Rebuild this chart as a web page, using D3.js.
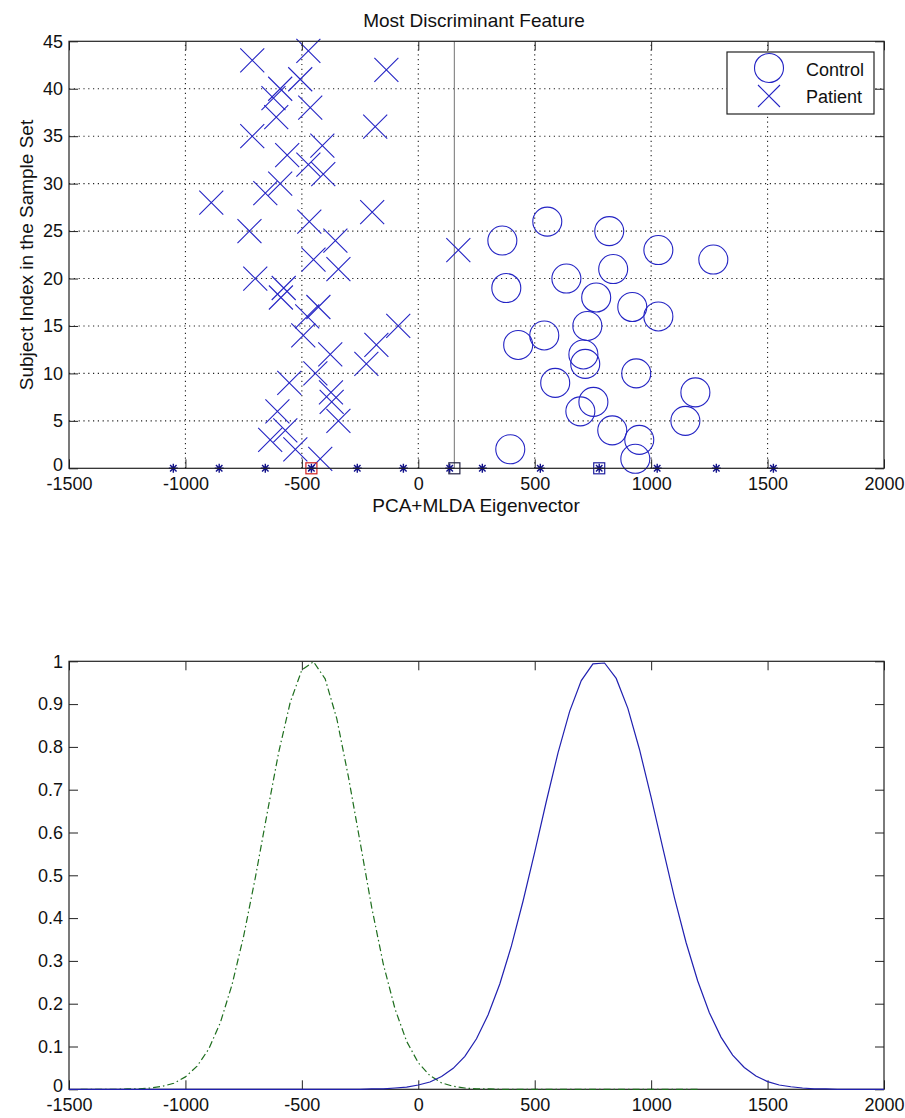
<!DOCTYPE html>
<html>
<head>
<meta charset="utf-8">
<script src="https://cdn.jsdelivr.net/npm/d3@7"></script>
<style>
  body { margin: 0; background: #fff; }
  svg text { font-family: "Liberation Sans", Arial, sans-serif; fill: #111; }
</style>
</head>
<body>
<svg id="svg" width="905" height="1118"></svg>
<script>
// ---- data ----
const xTicks = [-1500, -1000, -500, 0, 500, 1000, 1500, 2000];
const yTicksTop = [0, 5, 10, 15, 20, 25, 30, 35, 40, 45];
const yTicksBottom = [0, 0.1, 0.2, 0.3, 0.4, 0.5, 0.6, 0.7, 0.8, 0.9, 1];

// projection value of each control subject (index 1..26)
const controlValues = [932, 395, 949, 833, 1147, 696, 752, 1190, 588, 936, 717, 709, 429,
    541, 726, 1031, 919, 764, 378, 636, 837, 1267, 1031, 361, 820, 554];
// projection value of each patient subject (index 1..44)
const patientValues = [-421, -528, -636, -571, -343, -605, -372, -375, -554, -442, -223, -378,
    -180, -494, -86, -477, -429, -590, -578, -700, -343, -450, 172, -356, -725, -468, -198, -889,
    -657, -593, -408, -472, -563, -412, -713, -185, -610, -464, -622, -593, -507, -137, -713, -472];

// markers along the axis
const patientStars = [-1052, -855, -657, -459, -262, -64, 135];
const controlStars = [275, 524, 777, 1026, 1280, 1525];
const patientMean = -459;
const controlMean = 777;
const threshold = 155;

// fitted curves (x grid every 50 units)
const controlCurveX = d3.range(-1500, 2001, 50);
const controlCurve = [0, 0, 0, 0, 0, 0, 0, 0, 0, 0, 0, 0, 0, 0, 0, 0, 0, 0, 0, 0, 0, 0, 0, 0, 0, 0,
    0.001, 0.001, 0.003, 0.005, 0.010, 0.017, 0.030, 0.049, 0.077, 0.118, 0.174, 0.246, 0.335,
    0.440, 0.554, 0.673, 0.786, 0.883, 0.955, 0.994, 0.996, 0.960, 0.890, 0.794, 0.682, 0.564,
    0.448, 0.343, 0.253, 0.179, 0.122, 0.080, 0.051, 0.031, 0.018, 0.010, 0.006, 0.003, 0.001,
    0.001, 0, 0, 0, 0, 0];
const patientCurveX = d3.range(-1450, 1201, 50);
const patientCurve = [0, 0, 0, 0, 0.001, 0.001, 0.003, 0.007, 0.014, 0.029, 0.054, 0.094, 0.156,
    0.244, 0.358, 0.494, 0.642, 0.786, 0.904, 0.980, 0.999, 0.959, 0.866, 0.730, 0.578, 0.425,
    0.292, 0.188, 0.112, 0.062, 0.032, 0.015, 0.007, 0.003, 0.001, 0.001,
    0, 0, 0, 0, 0, 0, 0, 0, 0, 0, 0, 0, 0, 0, 0, 0, 0, 0];

const blue = "#2424c4";
const navy = "#10108a";
const tickFont = 18;
const labelFont = 19;

const svg = d3.select("#svg");
svg.append("rect").attr("width", 905).attr("height", 1118).attr("fill", "#fff");

const left = 69, right = 884;
const x = d3.scaleLinear().domain([-1500, 2000]).range([left, right]);
const yTop = d3.scaleLinear().domain([0, 45]).range([468.3, 41.3]);
const yBot = d3.scaleLinear().domain([0, 1]).range([1089.3, 661.3]);

function drawFrame(y, yTicks) {
    const [y0, y1] = y.range();
    const g = svg.append("g");
    const tick = 9;
    const fmt = d => String(d);
    const bottom = g.append("g").attr("transform", "translate(0," + y0 + ")")
        .call(d3.axisBottom(x).tickValues(xTicks).tickSize(-tick).tickSizeOuter(0).tickPadding(9).tickFormat(fmt));
    const top = g.append("g").attr("transform", "translate(0," + y1 + ")")
        .call(d3.axisTop(x).tickValues(xTicks).tickSize(-tick).tickSizeOuter(0).tickFormat(""));
    const leftAx = g.append("g").attr("transform", "translate(" + left + ",0)")
        .call(d3.axisLeft(y).tickValues(yTicks).tickSize(-tick).tickSizeOuter(0).tickPadding(6).tickFormat(fmt));
    const rightAx = g.append("g").attr("transform", "translate(" + right + ",0)")
        .call(d3.axisRight(y).tickValues(yTicks).tickSize(-tick).tickSizeOuter(0).tickFormat(""));
    [bottom, top, leftAx, rightAx].forEach(a => {
        a.select(".domain").remove();
        a.selectAll("line").attr("stroke", "#222");
        a.selectAll("text").attr("font-size", tickFont).attr("font-family", null).attr("fill", "#111");
    });
    // the zero label sits a little above the corner, as in the figure
    leftAx.selectAll(".tick").filter(d => d === 0).select("text").attr("dy", "0.1em");
    g.append("rect")
        .attr("x", left).attr("y", y1)
        .attr("width", right - left).attr("height", y0 - y1)
        .attr("fill", "none").attr("stroke", "#222").attr("stroke-width", 1.2);
    return g;
}

// ---------- top panel ----------
const grid = svg.append("g").attr("stroke", "#222").attr("stroke-width", 1.1)
    .attr("stroke-dasharray", "1.2,3.6");
grid.selectAll(".gx").data(xTicks.slice(1, -1)).join("line")
    .attr("x1", d => x(d)).attr("x2", d => x(d))
    .attr("y1", yTop(0)).attr("y2", yTop(45));
grid.selectAll(".gy").data(yTicksTop.slice(1, -1)).join("line")
    .attr("x1", left).attr("x2", right)
    .attr("y1", d => yTop(d)).attr("y2", d => yTop(d));

svg.append("line")
    .attr("x1", x(threshold)).attr("x2", x(threshold))
    .attr("y1", yTop(0)).attr("y2", yTop(45))
    .attr("stroke", "#8a8a8a").attr("stroke-width", 1.2);

svg.append("g").selectAll("circle").data(controlValues).join("circle")
    .attr("cx", d => x(d)).attr("cy", (d, i) => yTop(i + 1)).attr("r", 14.5)
    .attr("fill", "none").attr("stroke", blue).attr("stroke-width", 1.1);

const cross = s => `M${-s},${-s}L${s},${s}M${-s},${s}L${s},${-s}`;
svg.append("g").selectAll("path").data(patientValues).join("path")
    .attr("transform", (d, i) => "translate(" + x(d) + "," + yTop(i + 1) + ")")
    .attr("d", cross(12)).attr("fill", "none").attr("stroke", blue).attr("stroke-width", 1.1);

const star = s => { const k = s * 0.72; return `M0,${-s}L0,${s}M${-s},0L${s},0M${-k},${-k}L${k},${k}M${-k},${k}L${k},${-k}`; };
const squares = [
    { v: patientMean, color: "#d02020" },
    { v: threshold, color: "#222244" },
    { v: controlMean, color: "#2020a0" }
];
svg.append("g").selectAll("rect").data(squares).join("rect")
    .attr("x", d => x(d.v) - 5.5).attr("y", yTop(0) - 5.5)
    .attr("width", 11).attr("height", 11)
    .attr("fill", "none").attr("stroke", d => d.color).attr("stroke-width", 1.2);
svg.append("g").selectAll("path").data(patientStars.concat(controlStars)).join("path")
    .attr("transform", d => "translate(" + x(d) + "," + yTop(0) + ")")
    .attr("d", star(4.5)).attr("fill", "none").attr("stroke", navy).attr("stroke-width", 1.4);

drawFrame(yTop, yTicksTop);

svg.append("text").attr("x", 474).attr("y", 27).attr("text-anchor", "middle")
    .attr("font-size", labelFont).text("Most Discriminant Feature");
svg.append("text").attr("x", 476).attr("y", 512).attr("text-anchor", "middle")
    .attr("font-size", labelFont).text("PCA+MLDA Eigenvector");
svg.append("text").attr("transform", "translate(33,255) rotate(-90)").attr("text-anchor", "middle")
    .attr("font-size", labelFont).text("Subject Index in the Sample Set");

// legend
const lg = svg.append("g");
lg.append("rect").attr("x", 727).attr("y", 52).attr("width", 147).attr("height", 62)
    .attr("fill", "#fff").attr("stroke", "#222").attr("stroke-width", 1.2);
lg.append("circle").attr("cx", 769).attr("cy", 68).attr("r", 14.5)
    .attr("fill", "none").attr("stroke", blue).attr("stroke-width", 1.1);
lg.append("path").attr("transform", "translate(769,96)").attr("d", cross(11))
    .attr("fill", "none").attr("stroke", blue).attr("stroke-width", 1.1);
lg.append("text").attr("x", 806).attr("y", 76).attr("font-size", tickFont).text("Control");
lg.append("text").attr("x", 806).attr("y", 103).attr("font-size", tickFont).text("Patient");

// ---------- bottom panel ----------
drawFrame(yBot, yTicksBottom);

const line = d3.line().x(d => x(d[0])).y(d => yBot(d[1]));
svg.append("path")
    .attr("d", line(patientCurveX.map((v, i) => [v, patientCurve[i]])))
    .attr("fill", "none").attr("stroke", "#1e6e1e").attr("stroke-width", 1.2)
    .attr("stroke-dasharray", "7,3,1.5,3");
svg.append("path")
    .attr("d", line(controlCurveX.map((v, i) => [v, controlCurve[i]])))
    .attr("fill", "none").attr("stroke", "#2020b0").attr("stroke-width", 1.2);
</script>
</body>
</html>
